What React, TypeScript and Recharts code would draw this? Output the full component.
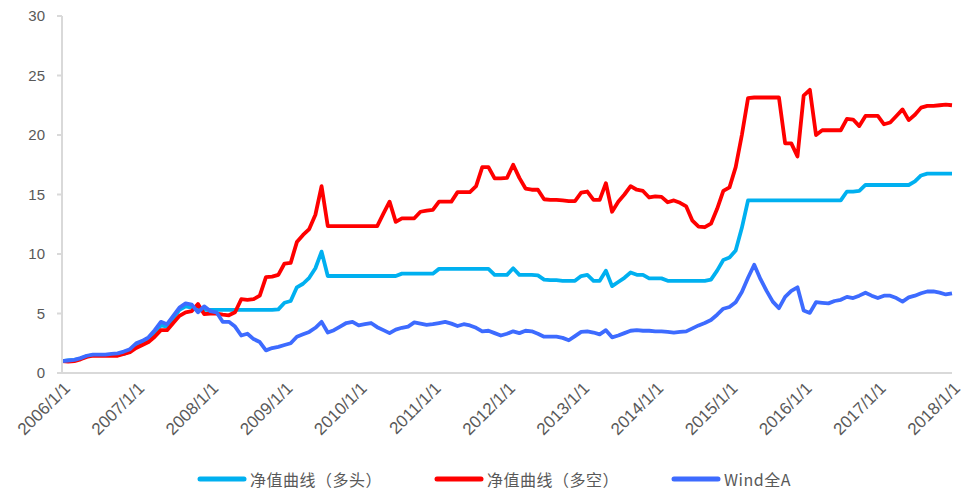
import { LineChart, Line, XAxis, YAxis, Legend } from 'recharts';

// 2006/1 .. 2018/1, one point per month
const startYear = 2006;
const monthCount = 145;
const dates = Array.from({ length: monthCount }, (_, i) => {
  const y = startYear + Math.floor(i / 12);
  const m = (i % 12) + 1;
  return `${y}/${m}/1`;
});

const yTicks = [0, 5, 10, 15, 20, 25, 30];

// 净值曲线（多头）
const longNav = [
  1.0, 1.05, 1.1, 1.2, 1.4, 1.5, 1.5, 1.5, 1.5, 1.55, 1.6, 1.8,
  2.3, 2.55, 2.85, 3.4, 4.0, 3.9, 4.6, 5.3, 5.6, 5.5, 5.3, 5.3,
  5.3, 5.3, 5.3, 5.3, 5.3, 5.3, 5.3, 5.3, 5.3, 5.3, 5.3, 5.35,
  5.9, 6.05, 7.2, 7.5, 8.0, 8.8, 10.2, 8.15, 8.15, 8.15, 8.15, 8.15,
  8.15, 8.15, 8.15, 8.15, 8.15, 8.15, 8.15, 8.35, 8.35, 8.35, 8.35, 8.35,
  8.35, 8.75, 8.75, 8.75, 8.75, 8.75, 8.75, 8.75, 8.75, 8.75, 8.25, 8.25,
  8.25, 8.8, 8.25, 8.25, 8.25, 8.2, 7.85, 7.8, 7.8, 7.75, 7.75, 7.75,
  8.15, 8.25, 7.75, 7.75, 8.6, 7.3, 7.65, 8.0, 8.45, 8.25, 8.25, 7.95,
  7.95, 7.95, 7.75, 7.75, 7.75, 7.75, 7.75, 7.75, 7.75, 7.85, 8.6, 9.5,
  9.7, 10.3, 12.2, 14.5, 14.5, 14.5, 14.5, 14.5, 14.5, 14.5, 14.5, 14.5,
  14.5, 14.5, 14.5, 14.5, 14.5, 14.5, 14.5, 15.25, 15.25, 15.3, 15.8, 15.8,
  15.8, 15.8, 15.8, 15.8, 15.8, 15.8, 16.1, 16.6, 16.75, 16.75, 16.75, 16.75,
  16.75,
];

// 净值曲线（多空）
const longShortNav = [
  1.0, 0.95, 1.0, 1.15, 1.35, 1.45, 1.45, 1.45, 1.45, 1.45, 1.6, 1.75,
  2.1, 2.35, 2.6, 3.05, 3.6, 3.6, 4.2, 4.8, 5.1, 5.2, 5.8, 4.95,
  5.0, 5.0, 4.9, 4.85, 5.1, 6.2, 6.15, 6.2, 6.5, 8.05, 8.1, 8.25,
  9.2, 9.25, 11.0, 11.6, 12.1, 13.3, 15.7, 12.35, 12.35, 12.35, 12.35, 12.35,
  12.35, 12.35, 12.35, 12.35, 13.4, 14.4, 12.7, 13.0, 13.0, 13.0, 13.55, 13.65,
  13.7, 14.4, 14.4, 14.4, 15.2, 15.2, 15.2, 15.7, 17.3, 17.3, 16.35, 16.35,
  16.4, 17.5, 16.4, 15.5, 15.4, 15.4, 14.6, 14.55, 14.55, 14.5, 14.45, 14.45,
  15.15, 15.25, 14.55, 14.55, 15.95, 13.55, 14.4, 15.0, 15.7, 15.4, 15.3, 14.75,
  14.85, 14.8, 14.35, 14.5, 14.3, 14.0, 12.8, 12.3, 12.25, 12.55, 13.8, 15.3,
  15.6, 17.3, 20.0, 23.1, 23.15, 23.15, 23.15, 23.15, 23.15, 19.3, 19.3, 18.2,
  23.3, 23.8, 20.0, 20.4, 20.4, 20.4, 20.4, 21.35, 21.3, 20.75, 21.6, 21.6,
  21.6, 20.9, 21.05, 21.6, 22.15, 21.25, 21.7, 22.3, 22.45, 22.45, 22.5, 22.55,
  22.5,
];

// Wind全A
const windA = [
  1.0, 1.05, 1.1, 1.25, 1.45, 1.55, 1.55, 1.55, 1.6, 1.65, 1.8, 2.0,
  2.5, 2.7, 3.0, 3.6, 4.3, 4.1, 4.8, 5.5, 5.85, 5.75, 5.1, 5.6,
  5.2, 5.1, 4.3, 4.3, 3.9, 3.15, 3.3, 2.85, 2.6, 1.9, 2.1, 2.2,
  2.35, 2.5, 3.05, 3.25, 3.45, 3.8, 4.3, 3.4, 3.6, 3.9, 4.2, 4.3,
  4.0, 4.1, 4.2, 3.85, 3.6, 3.35, 3.65, 3.8, 3.9, 4.25, 4.15, 4.05,
  4.1, 4.2, 4.3, 4.15, 3.95, 4.1, 4.0, 3.8, 3.5, 3.55, 3.35, 3.15,
  3.3, 3.5, 3.35, 3.55, 3.5, 3.3, 3.05, 3.05, 3.05, 2.95, 2.75, 3.1,
  3.45, 3.5, 3.4, 3.25, 3.6, 3.0, 3.15, 3.35, 3.55, 3.6, 3.55, 3.55,
  3.5, 3.5, 3.45, 3.4, 3.45, 3.5, 3.75, 4.0, 4.2, 4.45, 4.9, 5.4,
  5.55, 5.95, 6.8, 8.0, 9.1, 7.9, 6.9, 6.0, 5.45, 6.4, 6.9, 7.2,
  5.25, 5.05, 5.95, 5.9, 5.85, 6.05, 6.15, 6.4, 6.3, 6.5, 6.75, 6.5,
  6.3, 6.5, 6.5, 6.3, 6.0, 6.35, 6.5, 6.7, 6.85, 6.85, 6.75, 6.6,
  6.7,
];

const series = [
  { key: 'long', name: '净值曲线（多头）', color: '#00B0F0', values: longNav },
  { key: 'longShort', name: '净值曲线（多空）', color: '#FF0000', values: longShortNav },
  { key: 'wind', name: 'Wind全A', color: '#3D6BFF', values: windA },
];

const data = dates.map((date, i) => {
  const row: Record<string, string | number> = { date };
  series.forEach(s => {
    row[s.key] = s.values[i];
  });
  return row;
});

const textColor = '#595959';
const axisColor = '#d9d9d9';

function DateTick({ x, y, payload }: any) {
  return (
    <g transform={`translate(${x + 5},${y + 4})`}>
      <text
        transform="rotate(-45)"
        textAnchor="end"
        dy="0.35em"
        fill={textColor}
        fontSize={17}
      >
        {payload.value}
      </text>
    </g>
  );
}

function LegendBar() {
  return (
    <div
      style={{
        display: 'flex',
        alignItems: 'center',
        paddingLeft: 197,
        height: 24,
        fontFamily: '"Noto Sans CJK SC", sans-serif',
        fontSize: 16,
        color: textColor,
      }}
    >
      {series.map(s => (
        <div key={s.key} style={{ display: 'flex', alignItems: 'center', marginRight: 52 }}>
          <svg width={50} height={8} style={{ marginRight: 3 }}>
            <line x1={3} y1={4} x2={47} y2={4} stroke={s.color} strokeWidth={5} strokeLinecap="round" />
          </svg>
          <span style={{ letterSpacing: 0.5 }}>{s.name}</span>
        </div>
      ))}
    </div>
  );
}

export default function App() {
  return (
    <div style={{ position: 'absolute', left: 0, top: 0, background: '#fff' }}>
      <LineChart
        width={963}
        height={491}
        data={data}
        margin={{ top: 16, right: 11, left: 0, bottom: 0 }}
        style={{ fontFamily: '"Liberation Sans", Arial, sans-serif' }}
      >
        <XAxis
          dataKey="date"
          interval={11}
          tickLine={false}
          axisLine={{ stroke: axisColor, strokeWidth: 2 }}
          tick={<DateTick />}
          height={94}
        />
        <YAxis
          domain={[0, 30]}
          ticks={yTicks}
          width={62}
          tickSize={5}
          tickMargin={12}
          axisLine={{ stroke: axisColor, strokeWidth: 2 }}
          tickLine={{ stroke: axisColor, strokeWidth: 2 }}
          tick={{ fill: textColor, fontSize: 15 }}
        />
        <Legend
          verticalAlign="bottom"
          height={24}
          wrapperStyle={{ left: 0, width: 963 }}
          content={() => <LegendBar />}
        />
        {series.map(s => (
          <Line
            key={s.key}
            type="linear"
            dataKey={s.key}
            name={s.name}
            stroke={s.color}
            strokeWidth={3.8}
            strokeLinejoin="round"
            dot={false}
            isAnimationActive={false}
          />
        ))}
      </LineChart>
    </div>
  );
}
